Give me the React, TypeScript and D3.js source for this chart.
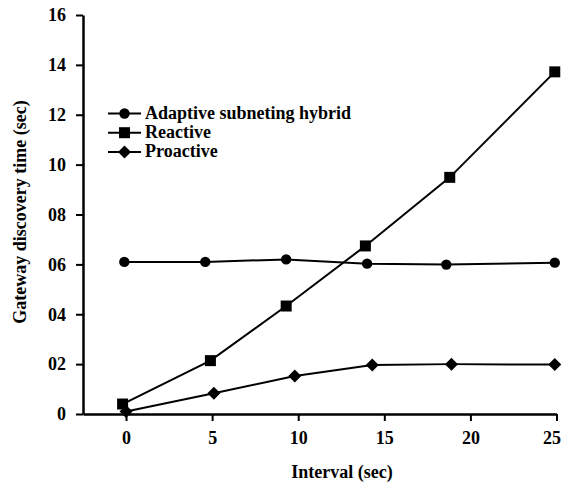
import { useEffect, useRef } from 'react';
import * as d3 from 'd3';

// values
const hybridX = [-0.1, 4.6, 9.3, 14.0, 18.6, 24.9];
const hybridY = [6.1, 6.1, 6.2, 6.03, 5.99, 6.07];
const reactiveX = [-0.2, 4.9, 9.3, 13.9, 18.8, 24.9];
const reactiveY = [0.4, 2.14, 4.33, 6.74, 9.49, 13.72];
const proactiveX = [0, 5.1, 9.8, 14.3, 18.9, 24.9];
const proactiveY = [0.1, 0.83, 1.52, 1.96, 2.0, 1.98];

const xTicks = [0, 5, 10, 15, 20, 25];
const yTicks = [0, 2, 4, 6, 8, 10, 12, 14, 16];
const yTickLabels = ['0', '02', '04', '06', '08', '10', '12', '14', '16'];
const legendLabels = ['Adaptive subneting hybrid', 'Reactive', 'Proactive'];
const markerTypes = ['circle', 'square', 'diamond'];

const W = 564;
const H = 485;
const FONT = "'Liberation Serif', 'DejaVu Serif', serif";

const App = () => {
  const svgRef = useRef<SVGSVGElement>(null);

  useEffect(() => {
    if (!svgRef.current) return;
    const svg = d3.select(svgRef.current);
    svg.selectAll('*').remove();

    const x = d3.scaleLinear().domain([-2.5, 25]).range([83, 556.5]);
    const y = d3.scaleLinear().domain([0, 16]).range([414, 15]);

    const drawMarker = (g: d3.Selection<SVGGElement, unknown, null, undefined>, type: string, cx: number, cy: number) => {
      if (type === 'circle') {
        g.append('circle').attr('cx', cx).attr('cy', cy).attr('r', 5.2).attr('fill', '#000');
      } else if (type === 'square') {
        g.append('rect').attr('x', cx - 5.5).attr('y', cy - 5.5).attr('width', 11).attr('height', 11).attr('fill', '#000');
      } else {
        g.append('path')
          .attr('d', `M${cx},${cy - 6.5}L${cx + 6.5},${cy}L${cx},${cy + 6.5}L${cx - 6.5},${cy}Z`)
          .attr('fill', '#000');
      }
    };

    // Axes
    const gx = svg.append('g')
      .attr('transform', `translate(0,${y(0)})`)
      .call(d3.axisBottom(x).tickValues(xTicks).tickSize(7).tickPadding(10).tickSizeOuter(0));
    gx.select('.domain').attr('stroke-width', 2.5);
    gx.selectAll('.tick line').attr('stroke-width', 2);
    gx.selectAll('.tick text')
      .style('font-family', FONT).style('font-size', '18px').style('font-weight', 'bold').attr('fill', '#000');
    // the last label sits a little left of its tick in the reference
    gx.selectAll<SVGTextElement, number>('.tick text').attr('dx', d => (d === 25 ? -5 : 0));

    const gy = svg.append('g')
      .attr('transform', `translate(${x(-2.5)},0)`)
      .call(d3.axisLeft(y).tickValues(yTicks).tickSize(7).tickPadding(10).tickSizeOuter(0)
        .tickFormat((_, i) => yTickLabels[i]));
    gy.select('.domain').attr('stroke-width', 2.5);
    gy.selectAll('.tick line').attr('stroke-width', 2);
    gy.selectAll('.tick text')
      .style('font-family', FONT).style('font-size', '18px').style('font-weight', 'bold').attr('fill', '#000');

    // Axis titles
    svg.append('text')
      .attr('x', 342).attr('y', 478)
      .attr('text-anchor', 'middle')
      .style('font-family', FONT).style('font-size', '18px').style('font-weight', 'bold')
      .text('Interval (sec)');

    svg.append('text')
      .attr('transform', 'rotate(-90)')
      .attr('x', -212).attr('y', 26)
      .attr('text-anchor', 'middle')
      .style('font-family', FONT).style('font-size', '18px').style('font-weight', 'bold')
      .text('Gateway discovery time (sec)');

    // Series
    const series = [
      { xs: hybridX, ys: hybridY },
      { xs: reactiveX, ys: reactiveY },
      { xs: proactiveX, ys: proactiveY },
    ];
    const line = d3.line<[number, number]>().x(d => x(d[0])).y(d => y(d[1]));

    series.forEach((s, si) => {
      const pts = s.xs.map((v, i) => [v, s.ys[i]] as [number, number]);
      svg.append('path')
        .datum(pts)
        .attr('d', line)
        .attr('fill', 'none')
        .attr('stroke', '#000')
        .attr('stroke-width', 2);
      const mg = svg.append('g');
      pts.forEach(p => drawMarker(mg, markerTypes[si], x(p[0]), y(p[1])));
    });

    // Legend
    const legendTop = 113.5;
    const rowGap = 19.2;
    legendLabels.forEach((label, i) => {
      const ly = legendTop + i * rowGap;
      const lg = svg.append('g');
      lg.append('line')
        .attr('x1', 108).attr('x2', 141).attr('y1', ly).attr('y2', ly)
        .attr('stroke', '#000').attr('stroke-width', 2);
      drawMarker(lg, markerTypes[i], 124.5, ly);
      lg.append('text')
        .attr('x', 145).attr('y', ly + 5.5)
        .style('font-family', FONT).style('font-size', '18px').style('font-weight', 'bold')
        .text(label);
    });
  }, []);

  return (
    <svg
      ref={svgRef}
      width={W}
      height={H}
      style={{ position: 'absolute', left: 0, top: 0, background: '#fff' }}
    />
  );
};

export default App;
